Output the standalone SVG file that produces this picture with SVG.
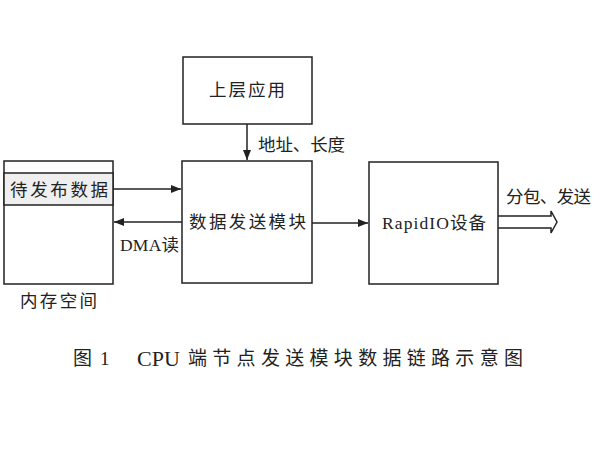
<svg xmlns="http://www.w3.org/2000/svg" width="600" height="450" viewBox="0 0 600 450">
<style>
.box{fill:#fff;stroke:#222;stroke-width:1.5}
.ln{fill:none;stroke:#222;stroke-width:1.5}
.t{font-family:"Liberation Serif","Noto Sans CJK SC",serif;font-size:17.5px;fill:#222;dominant-baseline:central}
.cap{font-size:19px}
</style>
<defs>
<marker id="ah" viewBox="0 0 10 8" refX="10" refY="4" markerWidth="10" markerHeight="8" markerUnits="userSpaceOnUse" orient="auto">
<path d="M0,0 L10,4 L0,8 Z" fill="#222"/>
</marker>
</defs>
<rect width="600" height="450" fill="#fff"/>
<g id="memory">
<rect class="box" x="4" y="161" width="109" height="123"/>
<rect x="4" y="173" width="109" height="32" fill="#efefef" stroke="#222" stroke-width="1.5"/>
<text class="t" x="10" y="190" textLength="98" lengthAdjust="spacing">待发布数据</text>
<text class="t" x="20" y="301" textLength="77" lengthAdjust="spacing">内存空间</text>
</g>
<g id="upper">
<rect class="box" x="183" y="57" width="129" height="67"/>
<text class="t" x="209" y="90" textLength="76" lengthAdjust="spacing">上层应用</text>
</g>
<g id="module">
<rect class="box" x="182" y="161" width="130" height="122"/>
<text class="t" x="189" y="222" textLength="117" lengthAdjust="spacing">数据发送模块</text>
</g>
<g id="rapidio">
<rect class="box" x="369" y="162" width="129" height="122"/>
<text class="t" x="382" y="223" textLength="104" lengthAdjust="spacing">RapidIO设备</text>
</g>
<g id="connectors">
<line class="ln" x1="247" y1="124" x2="247" y2="160" marker-end="url(#ah)"/>
<text class="t" x="258" y="145" textLength="87" lengthAdjust="spacing">地址、长度</text>
<line class="ln" x1="113" y1="189" x2="181" y2="189" marker-end="url(#ah)"/>
<line class="ln" x1="182" y1="222" x2="114" y2="222" marker-end="url(#ah)"/>
<text class="t" x="120" y="245" textLength="59" lengthAdjust="spacing">DMA读</text>
<line class="ln" x1="312" y1="223" x2="368" y2="223" marker-end="url(#ah)"/>
<path class="ln" d="M498,216 L551,216 L551,211 L557,222 L551,233 L551,228 L498,228"/>
<text class="t" x="506" y="197" textLength="85" lengthAdjust="spacing">分包、发送</text>
</g>
<text class="t cap" x="73" y="358">图</text>
<text class="t cap" x="100" y="358">1</text>
<text class="t cap" x="137" y="358" style="font-size:22px">CPU</text>
<text class="t cap" x="188" y="358" textLength="335" lengthAdjust="spacing">端节点发送模块数据链路示意图</text>
</svg>
